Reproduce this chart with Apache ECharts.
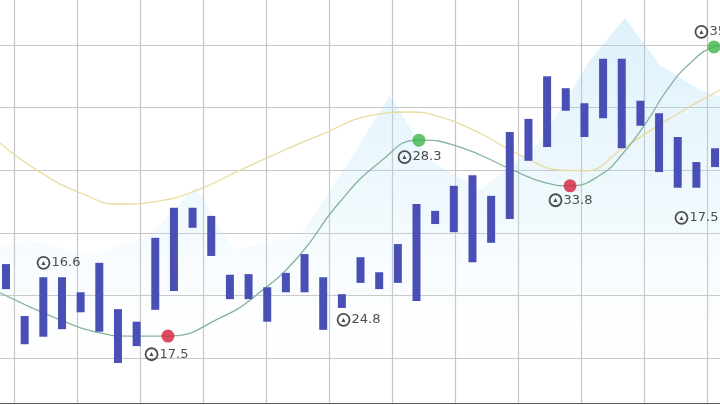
<!DOCTYPE html>
<html><head><meta charset="utf-8">
<script src="https://cdn.jsdelivr.net/npm/echarts@6/dist/echarts.min.js"></script>
<style>html,body{margin:0;padding:0;background:#fff}#c{width:720px;height:405px}</style>
</head><body><div id="c"></div>
<script>
// ---- data ----
const categories = ['1','2','3','4','5','6','7','8','9','10','11','12','13','14','15','16','17','18','19','20','21','22','23','24','25','26','27','28','29','30','31','32','33','34','35','36','37','38','39'];
const barLow  = [21.0,12.2,13.4,14.6,17.3,14.2, 9.2,11.9,17.7,20.7,30.8,26.3,19.4,19.4,15.8,20.5,20.5,14.5,18.0,22.0,21.0,22.0,19.1,31.4,30.1,25.3,28.4,32.2,41.5,43.7,49.5,45.3,48.3,43.5,47.1,39.7,37.2,37.2,40.5];
const barHigh = [25.0,16.7,22.9,22.9,20.5,25.2,17.8,15.8,29.2,34.0,34.0,32.7,23.3,23.4,21.3,23.6,26.6,22.9,20.2,26.1,23.7,28.2,34.6,33.5,37.5,39.2,35.9,46.1,48.2,55.0,53.1,50.7,57.8,57.8,51.1,49.1,45.3,41.3,43.5];
const trendLine = [[-0.32,20.4],[2.89,16.1],[5.04,14.0],[6.5,13.5],[8.68,13.5],[11.47,16.4],[13.61,20.5],[15.76,26.5],[17.74,34.4],[20.04,41.3],[22.13,44.8],[24.33,43.7],[27.17,40.0],[28.89,38.0],[30.23,37.5],[31.83,39.2],[33.07,42.7],[34.4,48.0],[35.42,52.8],[36.66,57.1],[37.94,59.7],[38.53,60.0]];
const avgLine = [[-0.32,44.3],[1.82,39.7],[3.97,36.4],[6.11,34.6],[8.25,35.1],[10.40,37.0],[12.54,40.0],[14.68,42.9],[16.83,45.6],[19.67,48.8],[21.65,49.3],[23.26,48.5],[25.40,45.9],[27.55,42.4],[29.85,40.0],[31.03,39.9],[33.07,43.5],[35.42,48.0],[38.26,52.8]];
const areaBand = [[-0.86,27.3],[1.29,28.8],[4.5,26.4],[7.72,29.6],[10.13,37.3],[12.27,27.3],[15.76,29.6],[18.43,41.6],[20.58,52.0],[22.72,41.6],[25.4,36.8],[28.6,44.4],[31.3,57.6],[33.17,64.3],[35.05,56.8],[37.2,52.8],[38.8,51.2]];
const lowPoints  = [[8.68,13.5],[30.23,37.5]];
const highPoints = [[22.13,44.8],[37.94,59.7]];
const noteLabels = [[2.84,25.2,'16.6'],[8.63,10.6,'17.5'],[18.92,16.1,'24.8'],[22.19,42.1,'28.3'],[30.28,35.2,'33.8'],[37.03,32.4,'17.5'],[38.1,62.1,'35.9']];

// ---- chart ----
const chart = echarts.init(document.getElementById('c'), null, {renderer:'canvas'});
const barRange = barHigh.map((h,i)=> +(h - barLow[i]).toFixed(2));
const FONT = 'DejaVu Sans, Liberation Sans, sans-serif';

chart.setOption({
  animation:false,
  backgroundColor:'#ffffff',
  grid:[
    {left:-49, right:-50, top:-18, bottom:2, containLabel:false, outerBoundsMode:'none'},
    {left:-3.33, right:-4.37, top:-17.6, bottom:-15.6, containLabel:false, outerBoundsMode:'none'}
  ],
  xAxis:[
    {type:'value', gridIndex:0, min:0, max:13, interval:1,
     axisLabel:{show:false}, axisTick:{show:false},
     axisLine:{show:true, lineStyle:{color:'#5a5a5a', width:1}},
     splitLine:{show:true, lineStyle:{color:'#c6c6c6', width:1.2}}},
    {type:'category', gridIndex:1, data:categories, show:false, boundaryGap:true},
    {type:'value', gridIndex:1, min:-0.5, max:38.5, show:false}
  ],
  yAxis:[
    {type:'value', gridIndex:0, min:0, max:10, show:false},
    {type:'value', gridIndex:1, min:0, max:70, interval:10,
     axisLabel:{show:false}, axisTick:{show:false}, axisLine:{show:false},
     splitLine:{show:true, lineStyle:{color:'#c6c6c6', width:1.2}}}
  ],
  series:[
    {type:'line', xAxisIndex:2, yAxisIndex:1, data:areaBand, symbol:'none', z:1,
     lineStyle:{width:0},
     areaStyle:{origin:'start', color:new echarts.graphic.LinearGradient(0,0,0,1,[
        {offset:0, color:'rgba(150,210,242,0.45)'},
        {offset:0.45, color:'rgba(185,226,247,0.32)'},
        {offset:0.72, color:'rgba(215,238,250,0.12)'},
        {offset:0.9, color:'rgba(255,255,255,0)'}])}},
    {type:'line', xAxisIndex:2, yAxisIndex:1, data:avgLine, symbol:'none', smooth:0.5, z:3,
     lineStyle:{color:'#e9dc9e', width:1.3}},
    {type:'line', xAxisIndex:2, yAxisIndex:1, data:trendLine, symbol:'none', smooth:0.5, z:3,
     lineStyle:{color:'#86b49a', width:1.3}},
    {type:'bar', xAxisIndex:1, yAxisIndex:1, stack:'r', data:barLow, barWidth:8, z:4,
     itemStyle:{color:'transparent'}, silent:true},
    {type:'bar', xAxisIndex:1, yAxisIndex:1, stack:'r', data:barRange, barWidth:8, z:4,
     itemStyle:{color:'#4a4fb5'}},
    {type:'scatter', xAxisIndex:2, yAxisIndex:1, data:lowPoints, symbolSize:13, z:6,
     itemStyle:{color:'#d5203a'}},
    {type:'scatter', xAxisIndex:2, yAxisIndex:1, data:highPoints, symbolSize:13, z:6,
     itemStyle:{color:'#3db54a'}},
    {type:'scatter', xAxisIndex:2, yAxisIndex:1, data:noteLabels, symbolSize:0, z:7,
     label:{show:true, position:'inside',
       formatter:p=>'{i|▲}{t|'+p.data[2]+'}',
       rich:{
         i:{width:10, height:10, borderRadius:7, borderWidth:1.8, borderColor:'#222',
            fontSize:7, color:'#222', align:'center', lineHeight:10, padding:[1,1,1,1]},
         t:{fontSize:13, color:'#222', fontFamily:FONT, padding:[0,0,0,2]}
       }}}
  ]
});
</script></body></html>
